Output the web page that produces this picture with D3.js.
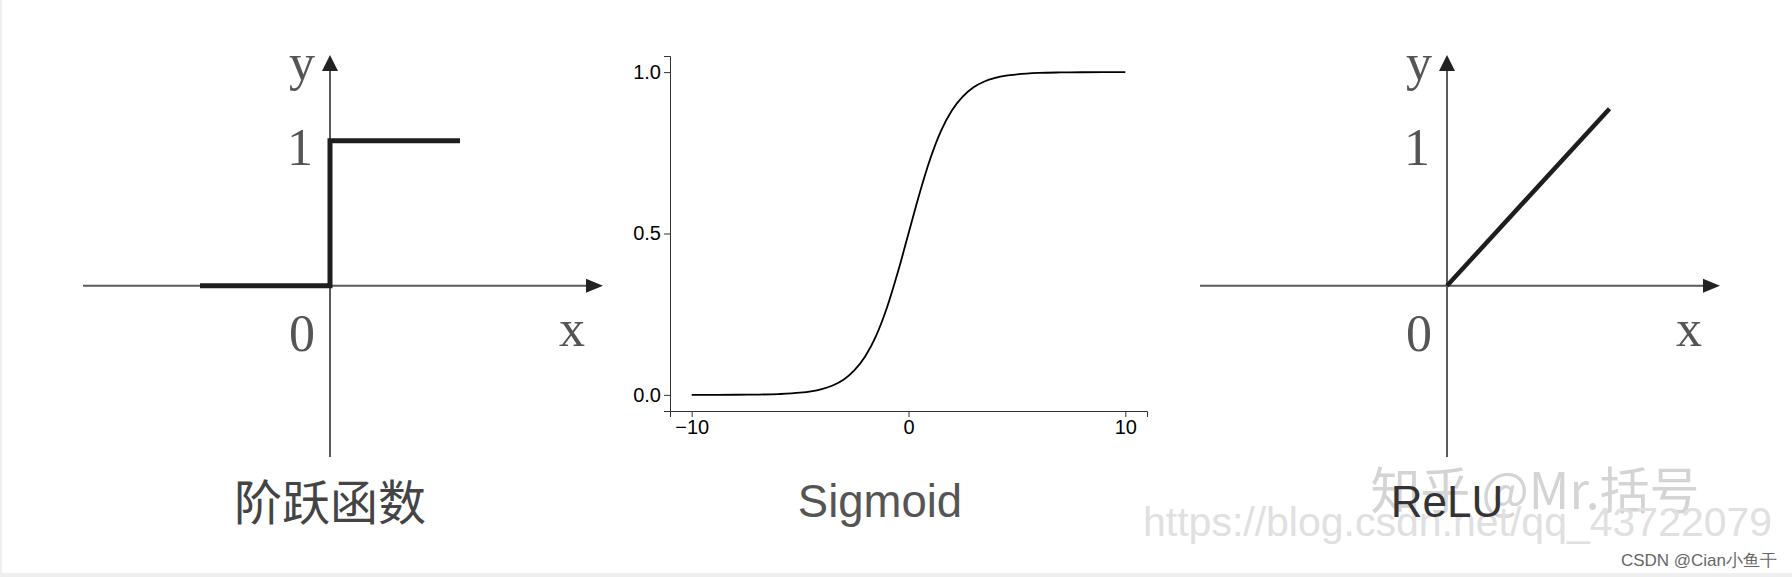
<!DOCTYPE html>
<html><head><meta charset="utf-8">
<script src="https://cdn.jsdelivr.net/npm/d3@7/dist/d3.min.js"></script>
<style>html,body{margin:0;padding:0;background:#fff;}svg{display:block;}</style>
</head><body>
<script>
// ---- data ----
const panelTitles = ["阶跃函数", "Sigmoid", "ReLU"];
// step function (schematic units)
const stepX = [-1, 0, 0, 1];
const stepY = [0, 0, 1, 1];
// ReLU (schematic units)
const reluX = [0, 1.25];
const reluY = [0, 1.22];
// schematic axis extents
const schemAxisX = [-1.9, 2.1];
const schemAxisY = [-1.18, 1.59];
const schemTickLabels = ["y", "1", "0", "x"];
// sigmoid curve
const sigX = [-10, -9, -8, -7, -6, -5, -4.5, -4, -3.5, -3, -2.5, -2, -1.5, -1, -0.5, 0, 0.5, 1, 1.5, 2, 2.5, 3, 3.5, 4, 4.5, 5, 6, 7, 8, 9, 10];
const sigY = [0.0000, 0.0001, 0.0003, 0.0009, 0.0025, 0.0067, 0.011, 0.018, 0.029, 0.047, 0.076, 0.119, 0.182, 0.269, 0.378, 0.5, 0.622, 0.731, 0.818, 0.881, 0.924, 0.953, 0.971, 0.982, 0.989, 0.993, 0.9975, 0.9991, 0.9997, 0.9999, 1.0];
const sigXDomain = [-11, 11];
const sigYDomain = [-0.05, 1.05];
const sigXTicks = [-10, 0, 10];
const sigYTicks = [0, 0.5, 1.0];
const watermark1 = "知乎 @Mr.括号";
const watermark2 = "https://blog.csdn.net/qq_43722079";
const credit = "CSDN @Cian小鱼干";

const W = 1792, H = 577;
const svg = d3.select("body").append("svg").attr("width", W).attr("height", H);
svg.append("rect").attr("x", 0).attr("y", 0).attr("width", W).attr("height", H).attr("fill", "#fff");
svg.append("rect").attr("x", 0).attr("y", 573).attr("width", W).attr("height", 4).attr("fill", "#eeeeee");
svg.append("rect").attr("x", 0).attr("y", 0).attr("width", 2).attr("height", 573).attr("fill", "#f0f0f0");

const serif = "'Liberation Serif','Times New Roman',serif";
const sans = "'Liberation Sans',Arial,sans-serif";
const cjk = "'Noto Sans CJK SC','Noto Sans',sans-serif";

function schematic(x0, dataX, dataY, lineW) {
  const x = d3.scaleLinear().domain(schemAxisX).range([x0 - 1.9 * 130, x0 + 2.1 * 130]);
  const y = d3.scaleLinear().domain(schemAxisY).range([457, 55]);
  const g = svg.append("g");
  const axisCol = "#5a5a5a";
  // x axis
  g.append("line").attr("x1", x(schemAxisX[0])).attr("x2", x(schemAxisX[1]) - 10)
    .attr("y1", y(0)).attr("y2", y(0)).attr("stroke", axisCol).attr("stroke-width", 2);
  g.append("path").attr("d", `M${x(schemAxisX[1])},${y(0)}L${x(schemAxisX[1]) - 17},${y(0) - 7}L${x(schemAxisX[1]) - 17},${y(0) + 7}Z`)
    .attr("fill", "#222");
  // y axis
  g.append("line").attr("x1", x(0)).attr("x2", x(0))
    .attr("y1", y(schemAxisY[0])).attr("y2", y(schemAxisY[1]) + 10).attr("stroke", axisCol).attr("stroke-width", 2);
  g.append("path").attr("d", `M${x(0)},${y(schemAxisY[1])}L${x(0) - 8},${y(schemAxisY[1]) + 16}L${x(0) + 8},${y(schemAxisY[1]) + 16}Z`)
    .attr("fill", "#222");
  // labels
  const lab = (t, xx, yy, anchor) => g.append("text").text(t).attr("x", xx).attr("y", yy)
    .attr("text-anchor", anchor).attr("font-family", serif).attr("font-size", 52).attr("fill", "#555");
  lab(schemTickLabels[0], x(0) - 15, y(schemAxisY[1]) + 25, "end");
  lab(schemTickLabels[1], x(0) - 17, y(1) + 24, "end");
  lab(schemTickLabels[2], x(0) - 15, y(0) + 65, "end");
  lab(schemTickLabels[3], x(schemAxisX[1]) - 44, y(0) + 60, "start");
  // function line
  const pts = dataX.map((d, i) => [x(d), y(dataY[i])]);
  g.append("path").attr("d", d3.line()(pts)).attr("fill", "none").attr("stroke", "#1e1e1e")
    .attr("stroke-width", lineW).attr("stroke-linejoin", "miter").attr("stroke-linecap", "butt");
  return x;
}

const x1 = schematic(330, stepX, stepY, 5);
const x3 = schematic(1447, reluX, reluY, 4.5);

// Sigmoid panel
const sx = d3.scaleLinear().domain(sigXDomain).range([670, 1147]);
const sy = d3.scaleLinear().domain(sigYDomain).range([411, 56]);
const gs = svg.append("g");
const ax = gs.append("g").attr("transform", `translate(0,${sy(sigYDomain[0])})`)
  .call(d3.axisBottom(sx).tickValues(sigXTicks).tickFormat(d3.format("d")));
const ay = gs.append("g").attr("transform", `translate(${sx(sigXDomain[0])},0)`)
  .call(d3.axisLeft(sy).tickValues(sigYTicks).tickFormat(d3.format(".1f")));
[ax, ay].forEach(a => {
  a.selectAll("text").attr("font-family", sans).attr("font-size", 20).attr("fill", "#000");
  a.selectAll("path,line").attr("stroke", "#333");
});
gs.append("path").attr("d", d3.line().curve(d3.curveMonotoneX)(sigX.map((d, i) => [sx(d), sy(sigY[i])])))
  .attr("fill", "none").attr("stroke", "#000").attr("stroke-width", 1.8);

// watermarks
svg.append("text").text(watermark1).attr("x", 1535).attr("y", 509).attr("text-anchor", "middle")
  .attr("font-family", cjk).attr("font-size", 50).attr("fill", "#d4d4d4");
svg.append("text").text(watermark2).attr("x", 1143).attr("y", 536)
  .attr("font-family", sans).attr("font-size", 41).attr("fill", "#e0e0e0");

// titles
svg.append("text").text(panelTitles[0]).attr("x", x1(0)).attr("y", 520).attr("text-anchor", "middle")
  .attr("font-family", cjk).attr("font-size", 48).attr("fill", "#444");
svg.append("text").text(panelTitles[1]).attr("x", 880).attr("y", 517).attr("text-anchor", "middle")
  .attr("font-family", sans).attr("font-size", 45.5).attr("fill", "#555");
svg.append("text").text(panelTitles[2]).attr("x", x3(0)).attr("y", 517).attr("text-anchor", "middle")
  .attr("font-family", sans).attr("font-size", 44).attr("fill", "#333");

svg.append("text").text(credit).attr("x", 1777).attr("y", 566).attr("text-anchor", "end")
  .attr("font-family", sans).attr("font-size", 17).attr("fill", "#666");
</script>
</body></html>
